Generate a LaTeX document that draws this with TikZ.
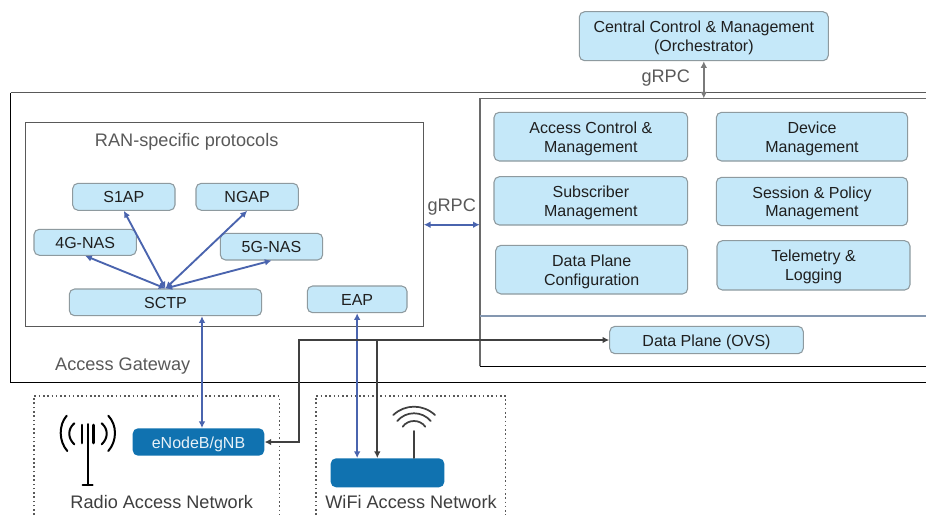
\documentclass[tikz,border=0pt]{standalone}
\usepackage{fontspec}
\setmainfont{Liberation Sans}
\usetikzlibrary{arrows.meta}
\definecolor{boxfill}{HTML}{C5E8F9}
\definecolor{boxedge}{HTML}{8E9A9F}
\definecolor{deepblue}{HTML}{1072B0}
\definecolor{linkblue}{HTML}{4A64AE}
\definecolor{linkdark}{HTML}{404040}
\definecolor{labelgray}{HTML}{595959}
\definecolor{inktext}{HTML}{1F1F1F}
\definecolor{dividerblue}{HTML}{8497B0}
\tikzset{
  lightbox/.style={draw=boxedge,fill=boxfill,line width=0.8pt,rounded corners=4pt,align=center,text=inktext,font=\fontsize{12}{14.2}\selectfont,inner sep=0pt},
  solidbox/.style={draw=none,fill=deepblue,rounded corners=4pt,align=center,text=white!90!deepblue,font=\fontsize{12}{14.2}\selectfont,inner sep=0pt},
  panel/.style={inner sep=0pt},
  caption/.style={text=labelgray,font=\fontsize{13.6}{16}\selectfont,inner sep=0pt},
  bluelink/.style={draw=linkblue,line width=1.4pt,{Latex[length=5pt,width=5pt]}-{Latex[length=5pt,width=5pt]}},
  darklink/.style={draw=linkdark,line width=1.4pt},
  tipend/.style={-{Latex[length=5pt,width=5pt]}},
  tipboth/.style={{Latex[length=5pt,width=5pt]}-{Latex[length=5pt,width=5pt]}},
  iconline/.style={draw=black,line width=1.5pt,line cap=round},
  wifiline/.style={draw=linkdark,line width=1.3pt,line cap=round},
  fence/.style={draw=labelgray,line width=1.2pt,dotted}
}
\newcommand{\pxbox}[7]{\node[#1,minimum width={(#4-#2)*0.75pt},minimum height={(#5-#3)*0.75pt}] (#6) at ({(#2+#4)/2},{(#3+#5)/2}) {\rule{0pt}{11.5pt}#7\rule[-2.5pt]{0pt}{2.5pt}};}
\begin{document}
\begin{tikzpicture}[x=0.75pt,y=-0.75pt]
\clip (0,0) rectangle (926,515);
\fill[white] (0,0) rectangle (926,515);
% panels
\pxbox{panel}{11}{93}{950}{382.3}{gateway}{}
\draw[black,line width=0.7pt] (gateway.north west) -- (gateway.south west) -- (gateway.south east);
\draw[labelgray,line width=0.8pt] (gateway.north west) -- (gateway.north east);
\pxbox{panel,draw=labelgray,line width=0.8pt}{25.7}{122.7}{423.3}{326.7}{ran}{}
\pxbox{panel,draw=none,fill=white}{480}{98.7}{950}{366}{core}{}
\draw[black,line width=0.8pt] (core.south west) -- (core.south east);
\draw[labelgray!90,line width=1.3pt] (core.south west) -- (core.north west) -- (core.north east);
\coordinate (dividerL) at (480,316);
\draw[dividerblue,line width=1.3pt] (dividerL) -- (dividerL -| core.east);
% fenced regions
\coordinate (fa) at (34,396); \coordinate (fb) at (279.3,396);
\coordinate (fc) at (316,396); \coordinate (fd) at (505.3,396);
\draw[fence] (34,515) -- (fa) -- (fb) -- (279.3,515);
\draw[fence] (316,515) -- (fc) -- (fd) -- (505.3,515);
% boxes
\pxbox{lightbox}{579.3}{11.7}{828.3}{60.7}{central}{Central Control \& Management\\(Orchestrator)}
\pxbox{lightbox}{494}{112.3}{687.7}{161}{access}{Access Control \&\\Management}
\pxbox{lightbox}{716.3}{112.3}{907.7}{161}{device}{Device\\Management}
\pxbox{lightbox}{494}{176.7}{687.7}{225}{subscriber}{Subscriber\\Management}
\pxbox{lightbox}{716.3}{177.3}{907.7}{225.7}{session}{Session \& Policy\\Management}
\pxbox{lightbox}{495.7}{245.3}{687.7}{294}{dpconfig}{Data Plane\\Configuration}
\pxbox{lightbox}{717}{240.7}{910}{290}{telemetry}{Telemetry \&\\Logging}
\pxbox{lightbox}{609.7}{326.3}{803.3}{353.7}{ovs}{Data Plane (OVS)}
\pxbox{lightbox}{72.7}{183.3}{175}{210.3}{sone}{S1AP}
\pxbox{lightbox}{196}{183.3}{298.3}{210.3}{ngap}{NGAP}
\pxbox{lightbox}{34}{229.3}{136.3}{255.3}{fournas}{4G-NAS}
\pxbox{lightbox}{220.3}{233.3}{322.7}{260}{fivenas}{5G-NAS}
\pxbox{lightbox}{69.3}{289}{261.7}{315.7}{sctp}{SCTP}
\pxbox{lightbox}{307.3}{286}{407}{312.7}{eap}{EAP}
\pxbox{solidbox}{132.7}{428.3}{264.3}{455.7}{enb}{eNodeB/gNB}
\pxbox{solidbox}{330.7}{458.3}{444.3}{487.3}{wifi}{}
% captions
\node[caption] (rantitle) at (186.7,141.5) {RAN-specific protocols};
\node[caption] (agwtitle) at (122.7,366.5) {Access Gateway};
\node[caption] (grpcup) at (665.7,78.5) {gRPC};
\node[caption] (grpcmid) at (451.7,207.5) {gRPC};
\node[caption,text=labelgray!70!black] (rantext) at (161.7,501.7) {Radio Access Network};
\node[caption,text=labelgray!70!black] (wifitext) at (411,501.7) {WiFi Access Network};
% protocol links
\draw[bluelink] (sctp.north) -- (sone.south);
\draw[bluelink] (sctp.north) -- (ngap.south);
\draw[bluelink] (sctp.north) -- (fournas.south);
\draw[bluelink] (sctp.north) -- (fivenas.south);
\coordinate (sctpdrop) at (202,0);
\draw[bluelink] (sctp.south -| sctpdrop) -- (enb.north -| sctpdrop);
\draw[bluelink] (eap.south) -- (wifi.north -| eap.south);
\draw[bluelink] (ran.east) -- (ran.east -| core.west);
% data plane links
\coordinate (turnx) at (298.7,0);
\coordinate (branchx) at (377.3,0);
\coordinate (turn) at (turnx |- ovs.west);
\coordinate (branch) at (branchx |- ovs.west);
\draw[darklink,tipboth] (enb.east) -| (turn) -- (ovs.west);
\draw[darklink,tipend] (branch) -- (wifi.north -| branch);
% orchestrator link
\draw[draw=labelgray!80,line width=1.1pt,tipboth] (central.south) -- (central.south |- core.north);
% antenna
\coordinate (mast) at (87.5,424);
\coordinate (mastbase) at (87.5,485);
\draw[iconline] (mast) -- (mastbase);
\draw[iconline] (82.7,485) -- (92.7,485);
\draw[iconline,line width=2pt] (82,425) -- (82,443);
\draw[iconline,line width=2pt] (93.3,425) -- (93.3,443);
\draw[iconline] (66.7,415.7) .. controls (58.6,425) and (58.6,441) .. (67.3,451);
\draw[iconline] (108.3,415.7) .. controls (117.2,425) and (117.2,441) .. (108.3,451);
\draw[iconline] (74.3,423.3) .. controls (67.6,429) and (67.6,438) .. (74.3,444.3);
\draw[iconline] (101.7,423.3) .. controls (108.4,429) and (108.4,438) .. (101.7,444.3);
% wifi icon
\coordinate (wpole) at (414,431);
\draw[wifiline] (wpole) -- (wifi.north -| wpole);
\draw[wifiline] (393.3,415) .. controls (405,403.9) and (423,403.9) .. (435,415);
\draw[wifiline] (397.3,421) .. controls (406,410.7) and (422,410.7) .. (430.7,421);
\draw[wifiline] (402.7,426.7) .. controls (408,419.1) and (420,419.1) .. (425.3,426.7);
\end{tikzpicture}
\end{document}
